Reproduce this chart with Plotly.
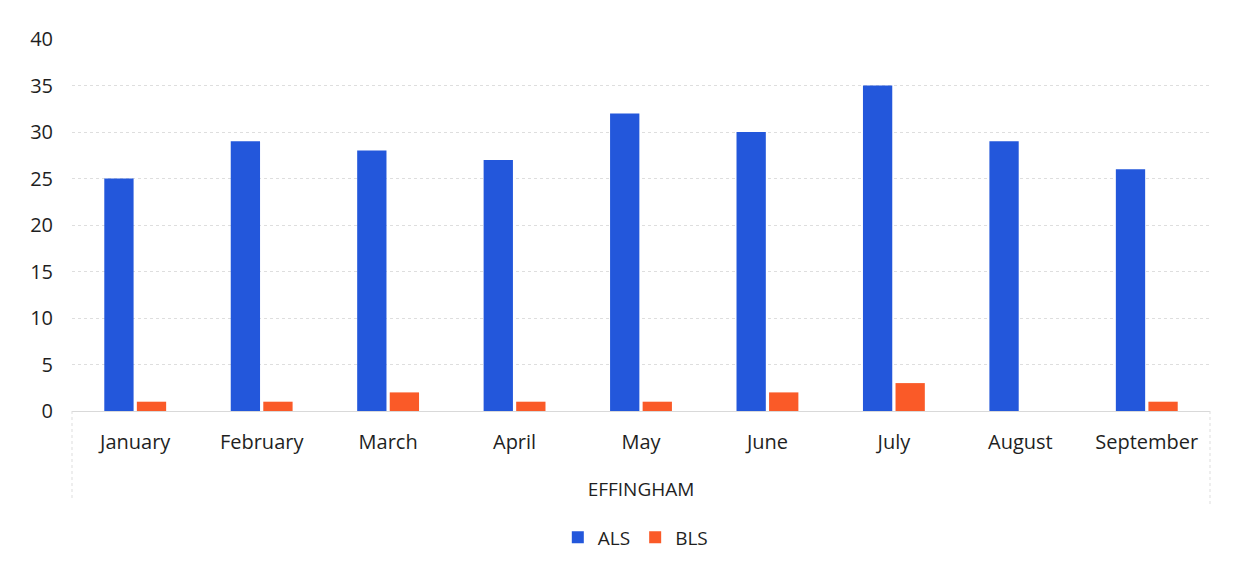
import plotly.graph_objects as go

months = ["January", "February", "March", "April", "May", "June", "July", "August", "September"]
als = [25, 29, 28, 27, 32, 30, 35, 29, 26]
bls = [1, 1, 2, 1, 1, 2, 3, 0, 1]

font_family = "Open Sans, Liberation Sans, sans-serif"
text_color = "#1F1F1F"

fig = go.Figure()
fig.add_trace(go.Bar(name="ALS", x=months, y=als, marker_color="#2357DB", marker_line_width=0))
fig.add_trace(go.Bar(name="BLS", x=months, y=bls, marker_color="#FA5A28", marker_line_width=0))

fig.update_layout(
    width=1226, height=564,
    margin=dict(l=64, r=24, t=31, b=161),
    paper_bgcolor="white", plot_bgcolor="white",
    barmode="group", bargap=0.485, bargroupgap=0.1,
    font=dict(family=font_family, color=text_color, size=20),
    showlegend=True,
    legend=dict(orientation="h", x=0.495, xanchor="center", y=-0.34, yanchor="middle",
                font=dict(size=19), itemwidth=30, traceorder="normal"),
)
fig.update_yaxes(range=[0, 40], dtick=5, showgrid=True, gridcolor="#DEDEDE", griddash="dot",
                 gridwidth=1, zeroline=False, showline=False, ticks="", ticklabelstandoff=18,
                 tickfont=dict(size=20))
fig.update_xaxes(showgrid=False, showline=True, linecolor="#D9D9D9", linewidth=1, ticks="",
                 ticklabelstandoff=13, tickfont=dict(size=20),
                 title=dict(text="EFFINGHAM", font=dict(size=19), standoff=28))

# category box lines below axis
fig.add_shape(type="line", xref="paper", yref="paper", x0=0, x1=0, y0=0, y1=-0.24,
              line=dict(color="#DDDDDD", width=1, dash="dot"))
fig.add_shape(type="line", xref="paper", yref="paper", x0=1, x1=1, y0=0, y1=-0.25,
              line=dict(color="#DDDDDD", width=1, dash="dot"))

fig.write_html("out.html")
